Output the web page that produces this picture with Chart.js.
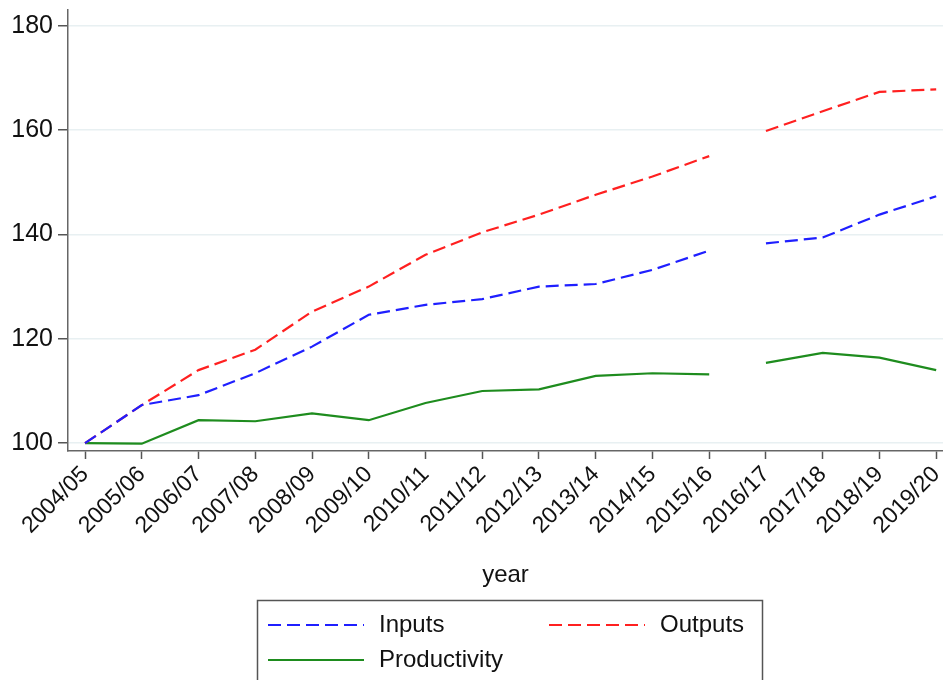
<!DOCTYPE html>
<html>
<head>
<meta charset="utf-8">
<script src="https://cdn.jsdelivr.net/npm/chart.js@4"></script>
<style>
  html, body { margin: 0; padding: 0; background: #fff; }
  #wrap { width: 943px; height: 680px; }
</style>
</head>
<body>
<div id="wrap"><canvas id="tfp"></canvas></div>
<script>
// data
const years = ["2004/05", "2005/06", "2006/07", "2007/08", "2008/09", "2009/10", "2010/11", "2011/12",
  "2012/13", "2013/14", "2014/15", "2015/16", "2016/17", "2017/18", "2018/19", "2019/20"];
const inputs = [100, 107.3, 109.2, 113.4, 118.5, 124.6, 126.5, 127.6, 130.0, 130.5, 133.2, 136.9, 138.3, 139.4, 143.8, 147.3];
const outputs = [100, 107.3, 114.0, 117.9, 125.2, 130.0, 136.1, 140.4, 143.8, 147.6, 151.1, 155.0, 159.8, 163.6, 167.3, 167.8];
const productivity = [100, 99.9, 104.4, 104.2, 105.7, 104.4, 107.7, 110.0, 110.3, 112.9, 113.4, 113.2, 115.4, 117.3, 116.4, 114.0];
const yTicks = [100, 120, 140, 160, 180];
const breakAfter = 11; // no line drawn between 2015/16 and 2016/17

const font = "'Liberation Sans', Arial, sans-serif";

function pts(arr) {
  return arr.map((v, i) => ({ x: i, y: v }));
}
const gap = {
  borderColor: (c) => (c.p0DataIndex === breakAfter ? 'rgba(0,0,0,0)' : undefined)
};

// boxed legend under the axis, like the original
const boxLegend = {
  id: 'boxLegend',
  afterDraw(chart) {
    const ctx = chart.ctx;
    ctx.save();
    ctx.strokeStyle = '#555';
    ctx.lineWidth = 1.5;
    ctx.strokeRect(257.5, 600.5, 505, 100);
    const items = [
      { ds: 0, x: 268, y: 625 },
      { ds: 1, x: 549, y: 625 },
      { ds: 2, x: 268, y: 660 },
    ];
    ctx.font = '24px ' + font;
    ctx.textBaseline = 'middle';
    items.forEach((it) => {
      const d = chart.data.datasets[it.ds];
      ctx.strokeStyle = d.borderColor;
      ctx.lineWidth = 2;
      ctx.setLineDash(d.borderDash || []);
      ctx.beginPath();
      ctx.moveTo(it.x, it.y);
      ctx.lineTo(it.x + 96, it.y);
      ctx.stroke();
      ctx.setLineDash([]);
      ctx.fillStyle = '#111';
      ctx.fillText(d.label, it.x + 111, it.y);
    });
    ctx.restore();
  }
};

new Chart(document.getElementById('tfp'), {
  type: 'line',
  data: {
    datasets: [
      {
        label: 'Inputs',
        data: pts(inputs),
        borderColor: '#1f1fff',
        borderDash: [13, 6],
        borderWidth: 2.2,
        pointRadius: 0,
        segment: gap,
      },
      {
        label: 'Outputs',
        data: pts(outputs),
        borderColor: '#ff2020',
        borderDash: [13, 6],
        borderWidth: 2.2,
        pointRadius: 0,
        segment: gap,
      },
      {
        label: 'Productivity',
        data: pts(productivity),
        borderColor: '#1e8c1e',
        borderWidth: 2.2,
        pointRadius: 0,
        segment: gap,
      },
    ],
  },
  options: {
    responsive: true,
    maintainAspectRatio: false,
    animation: false,
    layout: { padding: { top: 10, right: 0, bottom: 90, left: 0 } },
    plugins: {
      legend: { display: false },
      tooltip: { enabled: false },
    },
    scales: {
      x: {
        type: 'linear',
        min: -0.3,
        max: 15.12,
        afterBuildTicks: (s) => { s.ticks = years.map((_, i) => ({ value: i })); },
        afterFit: (s) => {
          s.height = 139;
          s.paddingLeft = 0;
          s.paddingRight = 0;
        },
        ticks: {
          autoSkip: false,
          maxRotation: 45,
          minRotation: 45,
          color: '#111',
          font: { family: font, size: 23 },
          padding: 2,
          callback: (v) => years[v],
        },
        grid: { drawOnChartArea: false, tickLength: 8, tickColor: '#555', tickWidth: 1.5 },
        border: { color: '#666', width: 1.5 },
        title: {
          display: true,
          text: 'year',
          color: '#111',
          font: { family: font, size: 24 },
          padding: { top: 0, bottom: 0 },
        },
      },
      y: {
        min: 98.5,
        max: 183,
        afterBuildTicks: (s) => { s.ticks = yTicks.map((v) => ({ value: v })); },
        afterFit: (s) => {
          s.width = 68;
          s.paddingTop = 0;
          s.paddingBottom = 0;
        },
        ticks: {
          color: '#111',
          font: { family: font, size: 25 },
          padding: 5,
        },
        grid: { color: '#e8f0f2', lineWidth: 1.5, tickLength: 10, tickColor: '#555', tickWidth: 1.5 },
        border: { color: '#666', width: 1.5 },
      },
    },
  },
  plugins: [boxLegend],
});
</script>
</body>
</html>
